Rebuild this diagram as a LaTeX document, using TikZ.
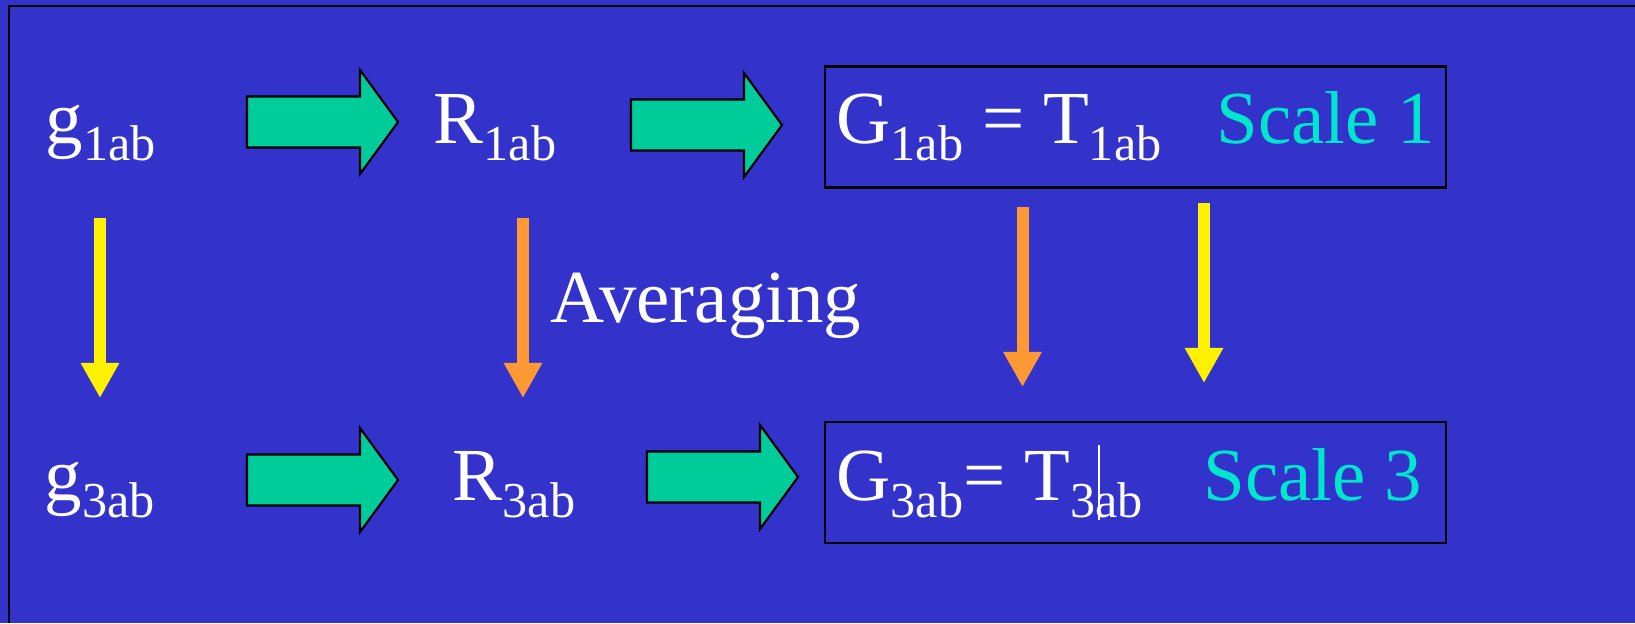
\documentclass[tikz,border=0pt]{standalone}
\usepackage{fontspec}
\setmainfont{Liberation Serif}
\usetikzlibrary{arrows.meta, positioning}
\definecolor{slideblue}{HTML}{3333CC}
\definecolor{arrowgreen}{HTML}{00CC99}
\definecolor{avgorange}{HTML}{FF9933}
\definecolor{scalecyan}{HTML}{00E6CC}
\newcommand{\lowsub}[1]{\raisebox{-5.1pt}{\fontsize{14.3}{16}\selectfont #1}}
\tikzset{
	blockarrow/.pic={
			\draw[line width=0.6pt, fill=arrowgreen, line join=miter]
			(0,-25.5) --
			(113,-25.5) --
			(113,-52) --
			(151,0) --
			(113,52) --
			(113,25.5) --
			(0,25.5) --
			cycle;
		}
}
\tikzset{
	bigtext/.style={font=\fontsize{21.3}{25}\selectfont, text=white, anchor=base west, inner sep=0pt}
}
\tikzset{
	downarrow/.style={line width=0.12cm, -{Triangle[width=0.36cm,length=0.35cm]}}
}
\tikzset{
	framebox/.style={draw=black, line width=0.7pt, minimum width=6.21cm, minimum height=1.21cm, inner sep=0pt}
}
\begin{document}
\begin{tikzpicture}[x=0.01cm, y=-0.01cm]

			\fill[slideblue] (0,0) rectangle (1635,623);
			\useasboundingbox (0,0) rectangle (1635,623);
			\draw[line width=0.7pt] (9,623) -- (9,6) -- (1635,6);

			\begin{scope}
				\node[framebox] (box1) at (1135.5,127) {};
				\node[framebox] (box2) at (1135.5,482.5) {};
			\end{scope}

			\begin{scope}
				\node[bigtext] (g1) at (45,143) {g\lowsub{1ab}};
				\node[bigtext] (R1) at (433,143) {R\lowsub{1ab}};
				\node[bigtext] (G1) at (836,143) {G\lowsub{1ab} = T\lowsub{1ab}};
				\node[bigtext, text=scalecyan] (sc1) at (1216,143) {Scale 1};

				\node[bigtext] (g3) at (44,500) {g\lowsub{3ab}};
				\node[bigtext] (R3) at (452,500) {R\lowsub{3ab}};
				\node[bigtext] (G3) at (836,500) {G\lowsub{3ab}= T\lowsub{3ab}};
				\node[bigtext, text=scalecyan] (sc3) at (1203,500) {Scale 3};

				\node[bigtext] (avg) at (550,322) {Averaging};

				\draw[white, line width=0.5pt] (1099,445) -- (1099,520);
			\end{scope}

			\begin{scope}
				\pic at (247,122) {blockarrow};
				\pic at (631,125) {blockarrow};
				\pic at (247,480) {blockarrow};
				\pic at (647,477) {blockarrow};
			\end{scope}

			\begin{scope}
				\coordinate (ya) at (100,218);
				\coordinate (yb) at (100,398);
				\coordinate (oa) at (523,218);
				\coordinate (ob) at (523,398);
				\coordinate (oc) at (1022.5,207);
				\coordinate (od) at (1022.5,387);
				\coordinate (yc) at (1204,203);
				\coordinate (yd) at (1204,383);

				\draw[downarrow, yellow] (ya) -- (yb);
				\draw[downarrow, avgorange] (oa) -- (ob);
				\draw[downarrow, avgorange] (oc) -- (od);
				\draw[downarrow, yellow] (yc) -- (yd);
			\end{scope}

		\end{tikzpicture}
\end{document}
